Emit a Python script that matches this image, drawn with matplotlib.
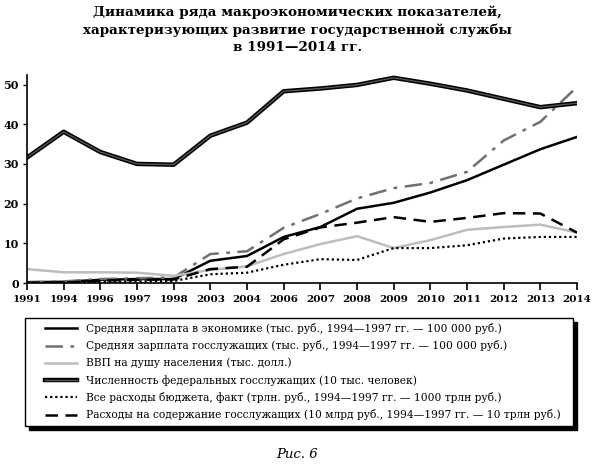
import matplotlib.pyplot as plt
import matplotlib.patheffects as pe
from matplotlib.patches import Rectangle

plt.rcParams['font.family'] = ['DejaVu Serif']

# Data
years = ["1991", "1994", "1996", "1997", "1998", "2003", "2004", "2006",
         "2007", "2008", "2009", "2010", "2011", "2012", "2013", "2014"]

wage_economy = [0.2, 0.3, 0.8, 1.0, 1.0, 5.6, 6.8, 11.6,
                14.1, 18.7, 20.2, 22.8, 25.9, 29.8, 33.7, 36.8]
wage_civil = [0.2, 0.4, 1.0, 1.2, 1.4, 7.3, 8.0, 13.9,
              17.4, 21.3, 23.9, 25.2, 28.0, 35.9, 40.6, 49.4]
gdp_per_capita = [3.5, 2.7, 2.7, 2.6, 1.8, 3.3, 4.2, 7.3,
                  9.8, 11.8, 8.8, 10.8, 13.4, 14.1, 14.7, 12.7]
civil_servants = [31.6, 38.1, 33.0, 30.0, 29.8, 37.1, 40.4, 48.3,
                  49.0, 49.9, 51.7, 50.2, 48.5, 46.4, 44.3, 45.3]
budget_total = [0.0, 0.1, 0.3, 0.4, 0.5, 2.2, 2.6, 4.6,
                6.0, 5.8, 8.8, 8.8, 9.5, 11.2, 11.6, 11.6]
civil_costs = [0.1, 0.1, 0.6, 0.8, 0.9, 3.5, 4.1, 11.0,
               14.0, 15.2, 16.6, 15.4, 16.4, 17.6, 17.5, 12.7]

labels = [
    "Средняя зарплата в экономике (тыс. руб., 1994\u20141997 гг. \u2014 100 000 руб.)",
    "Средняя зарплата госслужащих (тыс. руб., 1994\u20141997 гг. \u2014 100 000 руб.)",
    "ВВП на душу населения (тыс. долл.)",
    "Численность федеральных госслужащих (10 тыс. человек)",
    "Все расходы бюджета, факт (трлн. руб., 1994\u20141997 гг. \u2014 1000 трлн руб.)",
    "Расходы на содержание госслужащих (10 млрд руб., 1994\u20141997 гг. \u2014 10 трлн руб.)",
]

W, H = 595, 466
fig = plt.figure(figsize=(5.95, 4.66), dpi=100)
ax = fig.add_axes([27 / W, 1 - 283 / H, 550 / W, 208 / H])

ax.plot(years, wage_economy, color="black", lw=1.8, label=labels[0])
ax.plot(years, wage_civil, color="#707070", lw=1.8, dashes=(7, 3, 1.5, 3),
        label=labels[1])
ax.plot(years, gdp_per_capita, color="#bdbdbd", lw=1.8, label=labels[2])
ax.plot(years, civil_servants, color="#555555", lw=1.0, label=labels[3],
        path_effects=[pe.Stroke(linewidth=3.2, foreground="black"), pe.Normal()])
ax.plot(years, budget_total, color="black", lw=1.6, dashes=(1, 1.3),
        label=labels[4])
ax.plot(years, civil_costs, color="black", lw=1.8, dashes=(5, 3),
        label=labels[5])

ax.set_xlim(0, 15)
ax.set_ylim(0, 52.4)
ax.set_yticks([0, 10, 20, 30, 40, 50])
for s in ["top", "right"]:
    ax.spines[s].set_visible(False)
ax.spines["left"].set_linewidth(1.2)
ax.spines["bottom"].set_linewidth(1.2)
ax.tick_params(axis="x", direction="out", length=5, width=1.2, pad=4,
               labelsize=7.5)
ax.tick_params(axis="y", direction="out", length=3, width=1, pad=3,
               labelsize=8)
for t in ax.get_xticklabels() + ax.get_yticklabels():
    t.set_fontweight("bold")

fig.text(0.5, 1 - 30 / H,
         "Динамика ряда макроэкономических показателей,\n"
         "характеризующих развитие государственной службы\n"
         "в 1991\u20142014 гг.",
         ha="center", va="center", fontsize=9.7, fontweight="bold",
         linespacing=1.4)

# legend box with a solid black shadow
bx0, bx1, by0, by1 = 25, 573, 318, 426
bw, bh = (bx1 - bx0) / W, (by1 - by0) / H
fig.patches.append(Rectangle(((bx0 + 4) / W, 1 - (by1 + 4) / H), bw, bh,
                             transform=fig.transFigure, facecolor="black",
                             edgecolor="black", zorder=0))
fig.patches.append(Rectangle((bx0 / W, 1 - by1 / H), bw, bh,
                             transform=fig.transFigure, facecolor="white",
                             edgecolor="black", lw=1, zorder=1))

leg = fig.legend(loc="upper left", bbox_to_anchor=(45 / W, 1 - 323 / H),
                 fontsize=7.7, frameon=False, handlelength=3,
                 labelspacing=0.6, borderpad=0, handletextpad=0.8,
                 borderaxespad=0)

fig.text(0.5, 1 - 455 / H, "Рис. 6", ha="center", va="center",
         fontsize=9.5, style="italic")

fig.savefig("out.png", dpi=100)
